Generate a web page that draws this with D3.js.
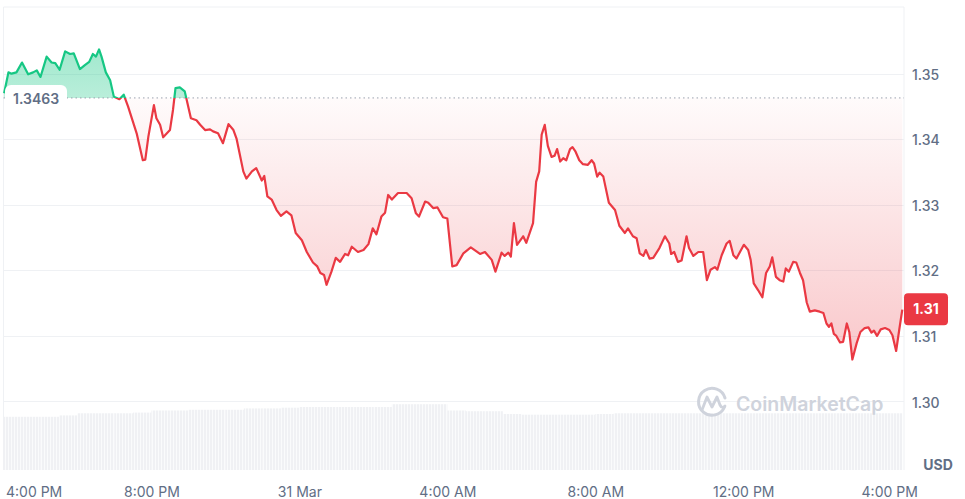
<!DOCTYPE html>
<html>
<head>
<meta charset="utf-8">
<script src="https://cdn.jsdelivr.net/npm/d3@7"></script>
<style>
  html, body { margin: 0; padding: 0; background: #ffffff; }
  svg { display: block; font-family: Inter, "Noto Sans", sans-serif; }
</style>
</head>
<body>
<svg id="chart" width="965" height="499"></svg>
<script>
// ---- DATA ----
// minutes elapsed since 30 Mar 4:00 PM
const minutes = [1,8,13,21,30,40,48,54,60,70,78,84,91,100,108,114,124,132,139,145,150,155,159,166,173,179,188,195,202,216,226,230,235,244,248,254,259,270,275,279,286,294,304,313,319,327,335,340,348,356,365,373,378,389,394,403,410,419,423,428,435,443,450,459,467,474,484,492,502,509,514,520,524,532,539,546,554,559,565,575,584,592,599,605,613,619,624,630,640,654,662,669,674,684,689,697,704,713,720,728,735,746,758,773,781,792,798,808,813,819,823,828,833,843,848,859,864,869,873,878,883,889,894,898,903,908,913,919,923,928,934,940,948,954,958,963,967,973,982,992,999,1008,1013,1021,1027,1032,1038,1042,1048,1054,1064,1073,1080,1083,1088,1094,1100,1108,1112,1119,1127,1135,1141,1147,1154,1158,1165,1173,1178,1184,1189,1194,1201,1208,1212,1217,1224,1231,1237,1243,1247,1253,1259,1265,1269,1274,1281,1286,1292,1297,1303,1308,1316,1324,1330,1335,1339,1343,1347,1351,1357,1362,1368,1372,1377,1384,1390,1397,1403,1408,1412,1417,1423,1430,1437,1442,1448,1453,1458];
const prices = [1.3470,1.3502,1.3500,1.3502,1.3517,1.3499,1.3502,1.3505,1.3495,1.3526,1.3517,1.3516,1.3506,1.3534,1.3530,1.3531,1.3507,1.3513,1.3518,1.3530,1.3526,1.3537,1.3526,1.3502,1.3490,1.3465,1.3461,1.3468,1.3450,1.3409,1.3368,1.3369,1.3404,1.3452,1.3432,1.3422,1.3403,1.3414,1.3445,1.3478,1.3479,1.3473,1.3432,1.3429,1.3422,1.3414,1.3415,1.3412,1.3409,1.3394,1.3423,1.3414,1.3401,1.3351,1.3340,1.3351,1.3356,1.3337,1.3344,1.3313,1.3308,1.3292,1.3283,1.3290,1.3284,1.3257,1.3246,1.3228,1.3212,1.3206,1.3196,1.3193,1.3178,1.3198,1.3219,1.3213,1.3225,1.3223,1.3236,1.3228,1.3231,1.3240,1.3264,1.3255,1.3282,1.3288,1.3315,1.3308,1.3318,1.3318,1.3310,1.3287,1.3282,1.3305,1.3303,1.3295,1.3296,1.3281,1.3279,1.3206,1.3208,1.3226,1.3235,1.3225,1.3228,1.3216,1.3198,1.3227,1.3222,1.3227,1.3221,1.3272,1.3239,1.3252,1.3242,1.3272,1.3335,1.3351,1.3407,1.3422,1.3390,1.3373,1.3375,1.3385,1.3366,1.3371,1.3368,1.3385,1.3388,1.3381,1.3368,1.3362,1.3361,1.3368,1.3363,1.3343,1.3349,1.3343,1.3303,1.3292,1.3268,1.3257,1.3264,1.3252,1.3249,1.3226,1.3222,1.3231,1.3218,1.3219,1.3234,1.3252,1.3241,1.3225,1.3228,1.3213,1.3215,1.3252,1.3234,1.3222,1.3228,1.3228,1.3185,1.3201,1.3205,1.3201,1.3223,1.3241,1.3245,1.3223,1.3218,1.3227,1.3239,1.3231,1.3216,1.3180,1.3170,1.3159,1.3196,1.3206,1.3220,1.3190,1.3185,1.3183,1.3203,1.3198,1.3213,1.3212,1.3196,1.3185,1.3151,1.3137,1.3139,1.3137,1.3135,1.3119,1.3114,1.3119,1.3103,1.3100,1.3090,1.3091,1.3119,1.3106,1.3064,1.3089,1.3106,1.3112,1.3113,1.3105,1.3108,1.3100,1.3110,1.3112,1.3109,1.3101,1.3077,1.3109,1.3140];
const basePrice = 1.3463;
const lastPriceLabel = "1.31";
// volume, one value per 30-minute slot (relative units)
const volume = [76,76,76,78,81,81,81,82,85,85,86,86,86,88,88,89,90,90,90,90,90,94,94,94,85,84,84,80,79,79,79,79,80,81,81,81,81,81,81,81,81,81,81,81,81,81,81,81,81];
const volumeSlotMinutes = 30;
const yTicks = [1.30,1.31,1.32,1.33,1.34,1.35];
const yTickLabels = ["1.30","1.31","1.32","1.33","1.34","1.35"];
const xTickMinutes = [0,240,480,720,960,1200,1440];
const xTickLabels = ["4:00 PM","8:00 PM","31 Mar","4:00 AM","8:00 AM","12:00 PM","4:00 PM"];
const currency = "USD";

// ---- SETUP ----
const svg = d3.select("#chart");
const t0 = new Date(2025, 2, 30, 16, 0).getTime();
const toDate = m => new Date(t0 + m * 60000);
const data = minutes.map((m, i) => ({ t: toDate(m), v: prices[i] }));

const plot = { left: 3.5, right: 904, top: 7, bottom: 470 };
const x = d3.scaleTime().domain([toDate(0), toDate(1458)]).range([3.5, 902.3]);
const y = d3.scaleLinear().domain([1.28955, 1.36017]).range([plot.bottom, plot.top]);
const yVol = d3.scaleLinear().domain([0, 100]).range([plot.bottom, 400]);
const yBase = y(basePrice);

const GREEN = "#16c784", RED = "#ea3943", TXT = "#616e85";

const defs = svg.append("defs");
const pat = defs.append("pattern").attr("id", "stripes").attr("patternUnits", "userSpaceOnUse")
  .attr("width", 3).attr("height", 10);
pat.append("rect").attr("width", 3).attr("height", 10).attr("fill", "#fafbfc");
pat.append("rect").attr("width", 2).attr("height", 10).attr("fill", "#f0f1f4");

const gG = defs.append("linearGradient").attr("id", "gGreen").attr("gradientUnits", "userSpaceOnUse")
  .attr("x1", 0).attr("x2", 0).attr("y1", y(d3.max(prices))).attr("y2", yBase);
gG.append("stop").attr("offset", 0).attr("stop-color", GREEN).attr("stop-opacity", 0.4);
gG.append("stop").attr("offset", 1).attr("stop-color", GREEN).attr("stop-opacity", 0.3);

const gR = defs.append("linearGradient").attr("id", "gRed").attr("gradientUnits", "userSpaceOnUse")
  .attr("x1", 0).attr("x2", 0).attr("y1", yBase).attr("y2", y(d3.min(prices)));
gR.append("stop").attr("offset", 0).attr("stop-color", RED).attr("stop-opacity", 0.02);
gR.append("stop").attr("offset", 1).attr("stop-color", RED).attr("stop-opacity", 0.28);

defs.append("clipPath").attr("id", "clipAbove").append("rect")
  .attr("x", 0).attr("y", 0).attr("width", 965).attr("height", yBase);
defs.append("clipPath").attr("id", "clipBelow").append("rect")
  .attr("x", 0).attr("y", yBase).attr("width", 965).attr("height", 499 - yBase);

// ---- FRAME & GRID ----
svg.append("line").attr("x1", plot.left).attr("x2", plot.right).attr("y1", plot.top).attr("y2", plot.top)
  .attr("stroke", "#eff1f4");
svg.append("line").attr("x1", plot.left).attr("x2", plot.left).attr("y1", plot.top).attr("y2", plot.bottom)
  .attr("stroke", "#eff1f4");
svg.append("line").attr("x1", plot.right).attr("x2", plot.right).attr("y1", plot.top).attr("y2", plot.bottom)
  .attr("stroke", "#eff1f4");

// volume bars
const endMin = 1458;
svg.append("g").selectAll("rect").data(volume).join("rect")
  .attr("x", (d, i) => x(toDate(i * volumeSlotMinutes)))
  .attr("width", (d, i) => x(toDate(Math.min((i + 1) * volumeSlotMinutes, endMin))) - x(toDate(i * volumeSlotMinutes)))
  .attr("y", d => yVol(d))
  .attr("height", d => yVol(0) - yVol(d))
  .attr("fill", "url(#stripes)");

svg.append("g").selectAll("line").data(yTicks).join("line")
  .attr("x1", plot.left).attr("x2", plot.right)
  .attr("y1", d => Math.round(y(d)) + 0.5).attr("y2", d => Math.round(y(d)) + 0.5)
  .attr("stroke", "#eff1f4");

// watermark
const wm = svg.append("g");
wm.append("path")
  .attr("d", "M724.5,407 A13.5,13.5 0 1 1 725,398")
  .attr("fill", "none").attr("stroke", "#cfd3dc").attr("stroke-width", 3).attr("stroke-linecap", "round");
wm.append("path")
  .attr("d", "M702,410 L707,397 L712,407 L717,397 L720,405 Q722,409 725,406")
  .attr("fill", "none").attr("stroke", "#cfd3dc").attr("stroke-width", 2.8)
  .attr("stroke-linejoin", "round").attr("stroke-linecap", "round");
wm.append("text").attr("x", 736).attr("y", 410.5).text("CoinMarketCap")
  .attr("font-size", 19.5).attr("font-weight", 600).attr("fill", "#cfd3dc");

// ---- AREAS & LINES ----
const area = d3.area().x(d => x(d.t)).y0(yBase).y1(d => y(d.v));
const line = d3.line().x(d => x(d.t)).y(d => y(d.v));

svg.append("path").datum(data).attr("d", area).attr("fill", "url(#gGreen)").attr("clip-path", "url(#clipAbove)");
svg.append("path").datum(data).attr("d", area).attr("fill", "url(#gRed)").attr("clip-path", "url(#clipBelow)");

// baseline dotted
svg.append("line").attr("x1", plot.left).attr("x2", plot.right).attr("y1", yBase).attr("y2", yBase)
  .attr("stroke", "#9aa1ad").attr("stroke-width", 1).attr("stroke-dasharray", "1.5,3");

svg.append("path").datum(data).attr("d", line).attr("fill", "none").attr("stroke", GREEN)
  .attr("stroke-width", 2.2).attr("stroke-linejoin", "round").attr("clip-path", "url(#clipAbove)");
svg.append("path").datum(data).attr("d", line).attr("fill", "none").attr("stroke", RED)
  .attr("stroke-width", 2.2).attr("stroke-linejoin", "round").attr("clip-path", "url(#clipBelow)");

// baseline label
svg.append("rect").attr("x", 5).attr("y", yBase - 13).attr("width", 62).attr("height", 27).attr("rx", 6)
  .attr("fill", "#ffffff");
svg.append("text").attr("x", 13).attr("y", yBase + 2).attr("dominant-baseline", "middle")
  .attr("font-size", 14).attr("font-weight", 600).attr("fill", TXT).text(basePrice.toFixed(4));

// ---- AXES ----
const yAxis = d3.axisRight(y).tickValues(yTicks).tickFormat((d, i) => yTickLabels[i]).tickSize(0).tickPadding(0);
const gy = svg.append("g").attr("transform", "translate(912,0)").call(yAxis);
gy.select(".domain").remove();
gy.selectAll("text").attr("font-size", 14).attr("font-weight", 500).attr("fill", TXT)
  .attr("font-family", "Inter, sans-serif").attr("dy", "0.4em").attr("x", 0);

const xAxis = d3.axisBottom(x).tickValues(xTickMinutes.map(toDate)).tickFormat((d, i) => xTickLabels[i])
  .tickSize(0).tickPadding(0);
const gx = svg.append("g").attr("transform", "translate(0,487)").call(xAxis);
gx.select(".domain").remove();
gx.selectAll("text").attr("font-size", 14).attr("font-weight", 400).attr("fill", TXT)
  .attr("font-family", "Inter, sans-serif").attr("dy", "0.35em").attr("y", 5);
gx.selectAll(".tick").filter((d, i) => i === 0).select("text").attr("text-anchor", "start").attr("x", 2);
gx.selectAll(".tick").filter((d, i) => i === xTickMinutes.length - 1).select("text").attr("x", -2);

svg.append("text").attr("x", 938).attr("y", 466).attr("text-anchor", "middle").attr("dominant-baseline", "middle")
  .attr("font-size", 14).attr("font-weight", 700).attr("fill", TXT).text(currency);

// last price badge
const yLast = y(prices[prices.length - 1]);
svg.append("rect").attr("x", 904).attr("y", yLast - 16.5).attr("width", 44).attr("height", 32).attr("rx", 4)
  .attr("fill", RED);
svg.append("text").attr("x", 926).attr("y", yLast).attr("text-anchor", "middle").attr("dominant-baseline", "middle")
  .attr("font-size", 14).attr("font-weight", 700).attr("fill", "#ffffff").text(lastPriceLabel);
</script>
</body>
</html>
